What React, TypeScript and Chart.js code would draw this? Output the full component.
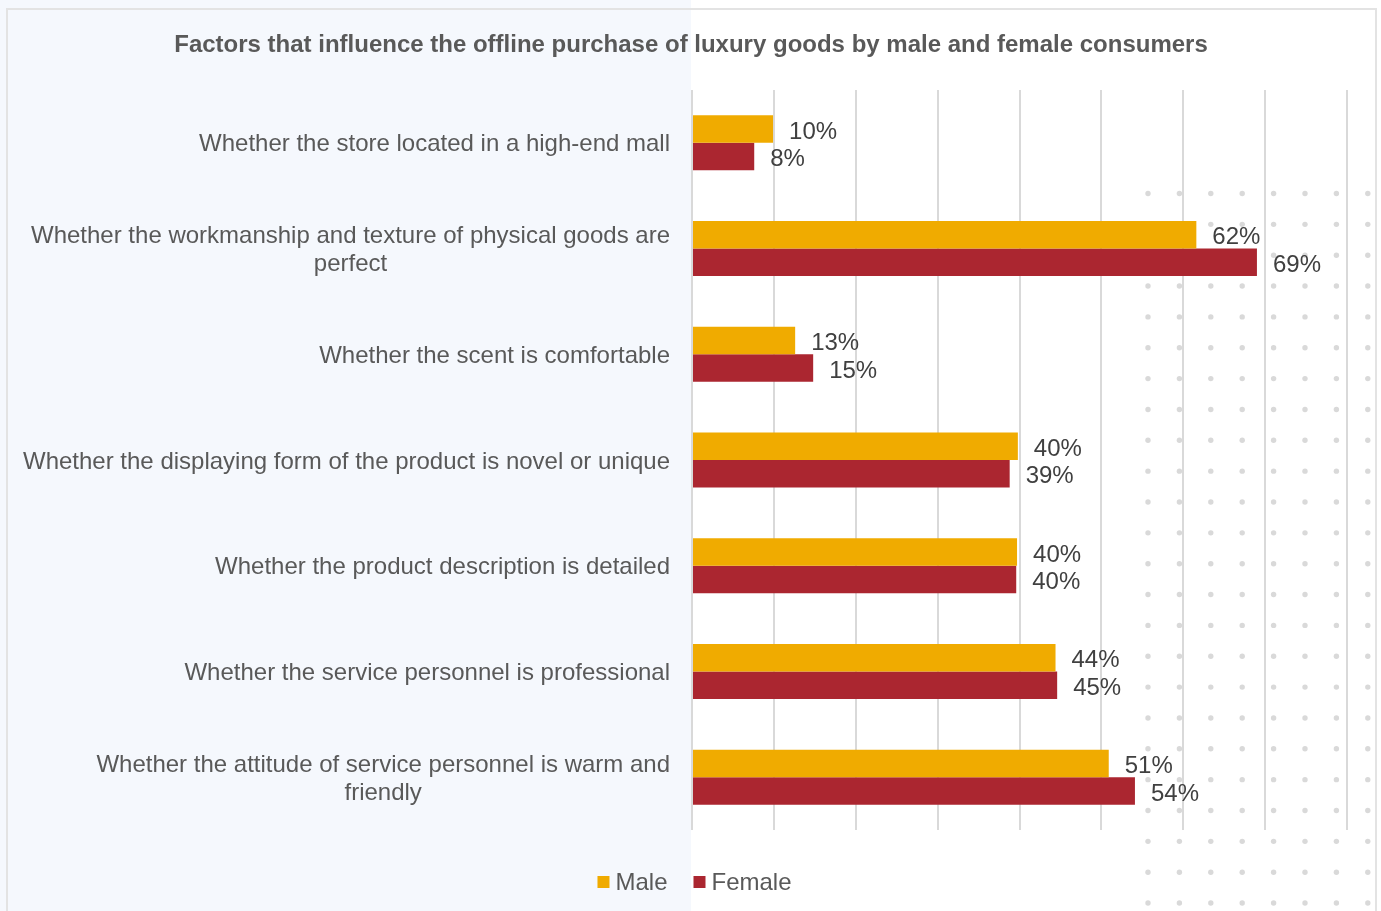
import React, { useEffect, useRef } from "react";
import { Chart, registerables } from "chart.js";

Chart.register(...registerables);

const chartTitle =
  "Factors that influence the offline purchase of luxury goods by male and female consumers";

const categories: string[][] = [
  ["Whether the store located in a high-end mall"],
  ["Whether the workmanship and texture of physical goods are", "perfect"],
  ["Whether the scent is comfortable"],
  ["Whether the displaying form of the product is novel or unique"],
  ["Whether the product description is detailed"],
  ["Whether the service personnel is professional"],
  ["Whether the attitude of service personnel is warm and", "friendly"],
];

const seriesNames = ["Male", "Female"];
const maleValues = [9.9, 61.6, 12.6, 39.8, 39.7, 44.4, 50.9];
const femaleValues = [7.6, 69, 14.8, 38.8, 39.6, 44.6, 54.1];
const maleLabels = ["10%", "62%", "13%", "40%", "40%", "44%", "51%"];
const femaleLabels = ["8%", "69%", "15%", "39%", "40%", "45%", "54%"];
const xTickValues = [0, 10, 20, 30, 40, 50, 60, 70, 80];

const MALE_COLOR = "#F0AB00";
const FEMALE_COLOR = "#AB2630";
const FONT = '"Liberation Sans", Arial, sans-serif';

const decorPlugin = {
  id: "decor",
  beforeDraw(chart: any) {
    const { ctx, width, height } = chart;
    ctx.save();
    ctx.fillStyle = "#ffffff";
    ctx.fillRect(0, 0, width, height);
    const left = chart.chartArea.left;
    ctx.fillStyle = "#F5F8FD";
    ctx.fillRect(0, 0, left - 1, height);
    // dot pattern
    ctx.fillStyle = "#D9D9D9";
    for (let r = 0; r < 24; r++) {
      const y = 193.5 + r * 30.85;
      for (let c = 0; c < 8; c++) {
        const x = 1148 + c * 31.4;
        ctx.beginPath();
        ctx.arc(x, y, 2.7, 0, Math.PI * 2);
        ctx.fill();
      }
    }
    // border
    ctx.strokeStyle = "#E3E3E3";
    ctx.lineWidth = 2;
    ctx.strokeRect(7, 9, 1369, 930);
    ctx.restore();
  },
  afterDatasetsDraw(chart: any) {
    const { ctx } = chart;
    ctx.save();
    ctx.font = `24px ${FONT}`;
    ctx.fillStyle = "#404040";
    ctx.textAlign = "left";
    ctx.textBaseline = "middle";
    const labelSets = [maleLabels, femaleLabels];
    chart.data.datasets.forEach((ds: any, di: number) => {
      const meta = chart.getDatasetMeta(di);
      meta.data.forEach((bar: any, i: number) => {
        ctx.fillText(labelSets[di][i], bar.x + 16, bar.y + 3);
      });
    });
    ctx.restore();
  },
  afterDraw(chart: any) {
    const { ctx, chartArea, scales, width } = chart;
    const yScale = scales.y;
    ctx.save();
    // title
    ctx.font = `bold 24px ${FONT}`;
    ctx.fillStyle = "#595959";
    ctx.textAlign = "center";
    ctx.textBaseline = "middle";
    ctx.fillText(chartTitle, 691, 45);

    // category labels
    ctx.font = `24px ${FONT}`;
    ctx.fillStyle = "#595959";
    const rightX = chartArea.left - 22;
    categories.forEach((lines, i) => {
      const yc = yScale.getPixelForValue(i);
      const widths = lines.map((l) => ctx.measureText(l).width);
      const block = Math.max(...widths);
      const cx = rightX - block / 2;
      lines.forEach((line, j) => {
        const y = yc + (j - (lines.length - 1) / 2) * 28 + 2;
        ctx.textAlign = "center";
        ctx.fillText(line, cx, y);
      });
    });

    // legend
    const colors = [MALE_COLOR, FEMALE_COLOR];
    const box = 12;
    const gap = 6;
    const itemGap = 26;
    const tw = seriesNames.map((n) => ctx.measureText(n).width);
    const total = tw.reduce((a, w) => a + box + gap + w, 0) + itemGap * (seriesNames.length - 1);
    let x = width / 2 + 4 - total / 2;
    const ly = 882;
    seriesNames.forEach((name, i) => {
      ctx.fillStyle = colors[i];
      ctx.fillRect(x, ly - box / 2, box, box);
      ctx.fillStyle = "#595959";
      ctx.textAlign = "left";
      ctx.fillText(name, x + box + gap, ly + 1);
      x += box + gap + tw[i] + itemGap;
    });
    ctx.restore();
  },
};

export default function App() {
  const canvasRef = useRef<HTMLCanvasElement | null>(null);

  useEffect(() => {
    if (!canvasRef.current) return;
    const chart = new Chart(canvasRef.current, {
      type: "bar",
      data: {
        labels: categories.map((c) => c.join(" ")),
        datasets: [
          {
            label: seriesNames[0],
            data: maleValues,
            backgroundColor: MALE_COLOR,
            categoryPercentage: 0.52,
            barPercentage: 1,
          },
          {
            label: seriesNames[1],
            data: femaleValues,
            backgroundColor: FEMALE_COLOR,
            categoryPercentage: 0.52,
            barPercentage: 1,
          },
        ],
      },
      options: {
        indexAxis: "y",
        responsive: false,
        animation: false,
        devicePixelRatio: 1,
        layout: { padding: { left: 692, right: 34, top: 90, bottom: 81 } },
        plugins: {
          legend: { display: false },
          title: { display: false },
          tooltip: { enabled: false },
        },
        scales: {
          x: {
            type: "linear",
            min: 0,
            max: 80,
            afterBuildTicks: (scale: any) => {
              scale.ticks = xTickValues.map((v) => ({ value: v }));
            },
            ticks: { display: false },
            border: { display: false },
            grid: { color: "#D9D9D9", lineWidth: 2, drawTicks: false },
          },
          y: {
            type: "category",
            display: false,
          },
        },
      },
      plugins: [decorPlugin],
    });
    return () => chart.destroy();
  }, []);

  return (
    <div style={{ position: "fixed", left: 0, top: 0, width: 1381, height: 911 }}>
      <canvas ref={canvasRef} width={1381} height={911} />
    </div>
  );
}
